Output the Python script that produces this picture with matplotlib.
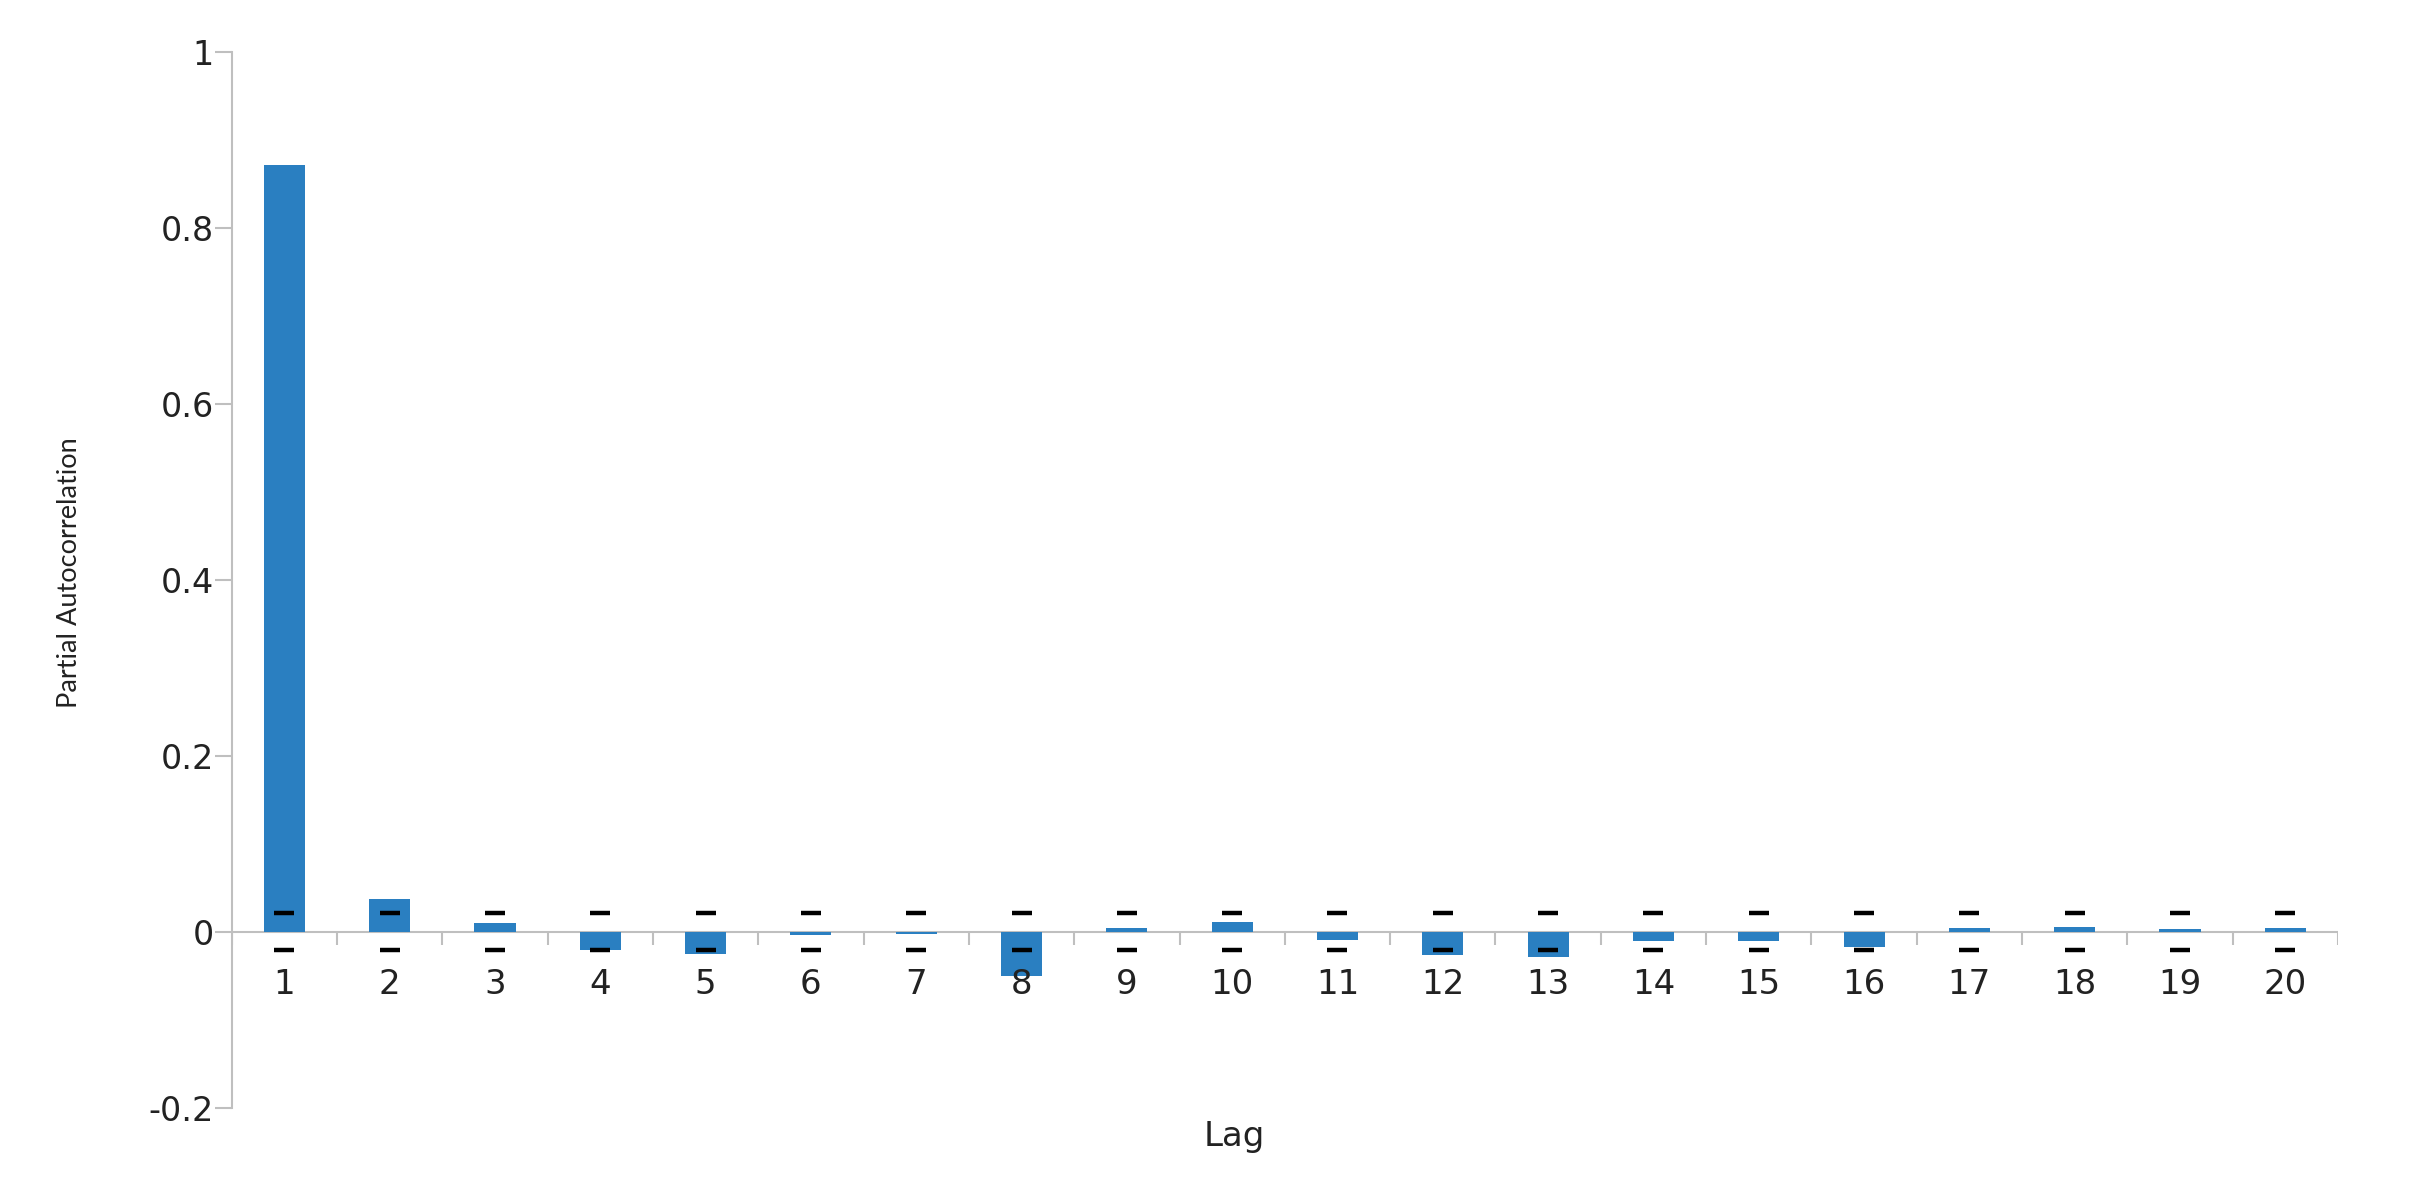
import matplotlib
matplotlib.use("Agg")
import matplotlib.pyplot as plt
import numpy as np

# PACF values
lags = list(range(1, 21))
pacf = [0.872, 0.038, 0.010, -0.020, -0.025, -0.004, -0.002, -0.050, 0.005, 0.011,
        -0.009, -0.026, -0.028, -0.010, -0.010, -0.017, 0.004, 0.006, 0.0035, 0.005]
conf_upper = [0.022] * 20
conf_lower = [-0.021] * 20
y_ticks = [-0.2, 0, 0.2, 0.4, 0.6, 0.8, 1]
y_tick_labels = ["-0.2", "0", "0.2", "0.4", "0.6", "0.8", "1"]

plt.rcParams["font.family"] = ["DejaVu Sans"]
text_color = "#222222"
axis_color = "#bfbfbf"

fig = plt.figure(figsize=(24.11, 11.86), dpi=100)
ax = fig.add_axes([0.0961, 0.0658, 0.8736, 0.8904])

x = np.arange(len(lags))
ax.bar(x, pacf, width=0.39, color="#2a7fc1", zorder=2)
ax.plot(x, conf_upper, linestyle="none", marker="_", markersize=14,
        markeredgewidth=3.2, color="black", zorder=3)
ax.plot(x, conf_lower, linestyle="none", marker="_", markersize=14,
        markeredgewidth=3.2, color="black", zorder=3)

ax.set_xlim(-0.5, len(lags) - 0.5)
ax.set_ylim(-0.2, 1)

for side in ["top", "right", "bottom"]:
    ax.spines[side].set_visible(False)
ax.spines["left"].set_color(axis_color)
ax.spines["left"].set_linewidth(1.5)

# category axis drawn at zero, with ticks between categories
ax.axhline(0, color=axis_color, linewidth=1.5, zorder=1)
ax.vlines(np.arange(len(lags) + 1) - 0.5, 0, -0.0145, color=axis_color,
          linewidth=1.5, zorder=1)
ax.tick_params(axis="x", length=0, pad=0)
ax.set_xticks(x)
ax.set_xticklabels([])
for xi, lab in zip(x, lags):
    ax.text(xi, -0.0705, str(lab), ha="center", va="baseline", fontsize=24.5,
            color=text_color)

ax.set_yticks(y_ticks)
ax.set_yticklabels(y_tick_labels)
ax.tick_params(axis="y", length=12, width=1.5, color=axis_color,
               labelsize=24, labelcolor=text_color, pad=1)

ax.set_xlabel("Lag", fontsize=24.5, color=text_color, va="baseline")
ax.xaxis.set_label_coords(0.476, -0.036)
ax.set_ylabel("Partial Autocorrelation", fontsize=19.5, color=text_color,
              family=["Liberation Sans Narrow", "Lato"], va="baseline")
ax.yaxis.set_label_coords(-0.0735, 0.507)

fig.savefig("out.png", dpi=100, facecolor="white")
